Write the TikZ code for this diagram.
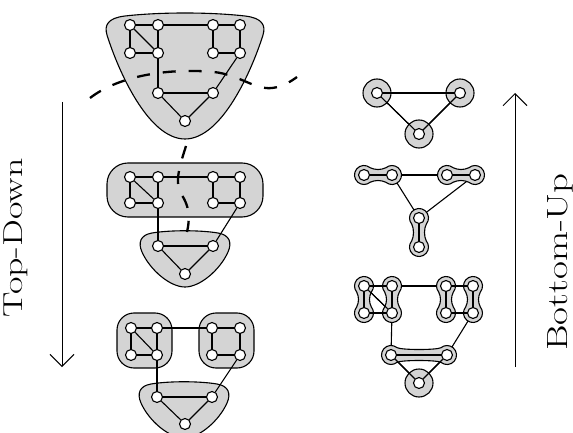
\documentclass[tikz,border=0pt]{standalone}
\usepackage{fontspec}
\usetikzlibrary{arrows.meta}
\pgfdeclarelayer{bg}
\pgfsetlayers{bg,main}
\definecolor{blobgray}{gray}{0.83}
\tikzset{
  v/.style={circle, draw, fill=white, inner sep=0pt, minimum size=11pt, line width=1.1pt},
  e/.style={line width=1.1pt},
  te/.style={line width=2.6pt},
  blob/.style={draw, fill=blobgray, line width=1.1pt},
  cut/.style={line width=2.3pt, dash pattern=on 13pt off 13pt},
  axis/.style={line width=1pt, -{Straight Barb[length=12pt,width=24pt]}},
  lbl/.style={rotate=90, anchor=base, inner sep=0pt},
  pics/peanut/.style={code={
    \path[blob] (6.1,7.3) .. controls (11,4.9) and (#1-11,4.9) .. (#1-6.1,7.3)
      arc[start angle=130, end angle=-130, radius=9.5]
      .. controls (#1-11,-4.9) and (11,-4.9) .. (6.1,-7.3)
      arc[start angle=-50, end angle=-310, radius=9.5] -- cycle;
  }},
}
\begin{document}
\begin{tikzpicture}[x=1pt,y=-1pt]
\useasboundingbox (0,0) rectangle (573,433);

% ---------- top graph ----------
\foreach \n/\x/\y in {1/130/25,2/158/25,3/213/25,4/240/25,5/130/53,6/158/53,7/213/53,8/240/53,9/158/93,10/213/93,11/185/121}
  \node[v] (t\n) at (\x,\y) {};
% ---------- middle graph ----------
\foreach \n/\x/\y in {1/130/177,2/158/177,3/213/177,4/240/177,5/130/203,6/158/203,7/213/203,8/240/203,9/158/246,10/213/246,11/185/274}
  \node[v] (m\n) at (\x,\y) {};
% ---------- bottom graph ----------
\foreach \n/\x/\y in {1/131/328,2/157/328,3/212/328,4/240/328,5/131/355,6/157/355,7/212/355,8/240/355,9/157/397,10/212/397,11/185/424}
  \node[v] (b\n) at (\x,\y) {};

\begin{pgfonlayer}{bg}
% ---------- blobs (left) ----------
\path[blob] (125,16) .. controls (160,12) and (210,12) .. (245,16)
  .. controls (262,18) and (266,25) .. (263,35)
  .. controls (252,70) and (222,139) .. (185,139)
  .. controls (148,139) and (118,70) .. (107,35)
  .. controls (104,25) and (108,18) .. (125,16) -- cycle;
\path[blob, rounded corners=21pt] (107,163) rectangle (263,217);
\path[blob] (152,233) .. controls (170,230) and (200,230) .. (218,233)
  .. controls (230,235) and (232,243) .. (228,252)
  .. controls (220,270) and (200,287) .. (185,287)
  .. controls (170,287) and (150,270) .. (142,252)
  .. controls (138,243) and (140,235) .. (152,233) -- cycle;
\path[blob, rounded corners=17pt] (117,313) rectangle (172,368);
\path[blob, rounded corners=17pt] (199,313) rectangle (254,368);
\path[blob] (151,384) .. controls (169,381) and (199,381) .. (217,384)
  .. controls (229,386) and (231,394) .. (227,403)
  .. controls (219,421) and (199,438) .. (184.5,438)
  .. controls (169,438) and (149,421) .. (141,403)
  .. controls (137,394) and (139,386) .. (151,384) -- cycle;
\foreach \g in {t,m,b}
  \foreach \a/\b in {1/2,2/3,3/4,1/5,1/6,2/6,5/6,3/7,4/8,7/8,6/9,8/10,9/10,9/11,10/11}
    \draw[e] (\g\a) -- (\g\b);
\end{pgfonlayer}

% ---------- right: coarse triangle ----------
\foreach \n/\x/\y in {1/377/93,2/460/93,3/419/134}
  \node[v] (p\n) at (\x,\y) {};
% ---------- right: middle ----------
\foreach \n/\x/\y in {1/364/175,2/392/175,3/447/175,4/475/175,5/419/218,6/419/247}
  \node[v] (q\n) at (\x,\y) {};
% ---------- right: bottom ----------
\foreach \n/\x/\y in {1/364/286,2/392/286,3/446/286,4/473/286,5/364/313,6/392/313,7/446/313,8/473/313,9/391/355,10/447/355,11/419/383}
  \node[v] (s\n) at (\x,\y) {};

\begin{pgfonlayer}{bg}
  \foreach \a/\b in {1/2,1/3,2/3} \draw[e] (p\a) -- (p\b);
  \foreach \n in {1,2,3} \path[blob] (p\n) circle[radius=14];
  \foreach \a/\b in {1/2,1/3,2/3} \draw[e] (p\a.center) -- (p\b.center);

  \foreach \a/\b in {2/3,2/5,4/5} \draw[e] (q\a) -- (q\b);
  \pic at (q1) {peanut=28};
  \pic at (q3) {peanut=28};
  \pic[rotate=-90] at (q5) {peanut=29};
  \foreach \a/\b in {1/2,3/4,5/6} \draw[te] (q\a) -- (q\b);

  \foreach \a/\b in {2/3,1/6,5/6,7/8,6/9,8/10,9/11,10/11} \draw[e] (s\a) -- (s\b);
  \path[blob] (s11) circle[radius=14];
  \pic[rotate=-90] at (s1) {peanut=27};
  \pic[rotate=-90] at (s2) {peanut=27};
  \pic[rotate=-90] at (s3) {peanut=27};
  \pic[rotate=-90] at (s4) {peanut=27};
  \pic at (s9) {peanut=56};
  \foreach \a/\b in {1/5,2/6,3/7,4/8,9/10,1/2,3/4,1/6,5/6,7/8,9/11,10/11} \draw[e] (s\a) -- (s\b);
\end{pgfonlayer}

% ---------- cuts ----------
\draw[cut] (90,98) .. controls (120,75) and (170,68) .. (214,72)
  .. controls (240,75) and (255,90) .. (272,88)
  .. controls (282,87) and (290,82) .. (297,77);
\draw[cut] (186,146) .. controls (180,165) and (175,180) .. (180,192)
  .. controls (185,200) and (192,210) .. (187,232);

% ---------- axes ----------
\coordinate (lt) at (62,102);
\coordinate (lb) at (62,367);
\coordinate (rb) at (515,367);
\coordinate (rt) at (515,93);
\draw[axis] (lt) -- (lb);
\draw[axis] (rb) -- (rt);
\node[lbl, font=\fontsize{38}{44}\selectfont] (tdl) at (23,238) {\scalebox{1}[0.72]{Top-Down}};
\node[lbl, font=\fontsize{39}{44}\selectfont] (bul) at (567,262) {\scalebox{1}[0.75]{Bottom-Up}};
\end{tikzpicture}
\end{document}
